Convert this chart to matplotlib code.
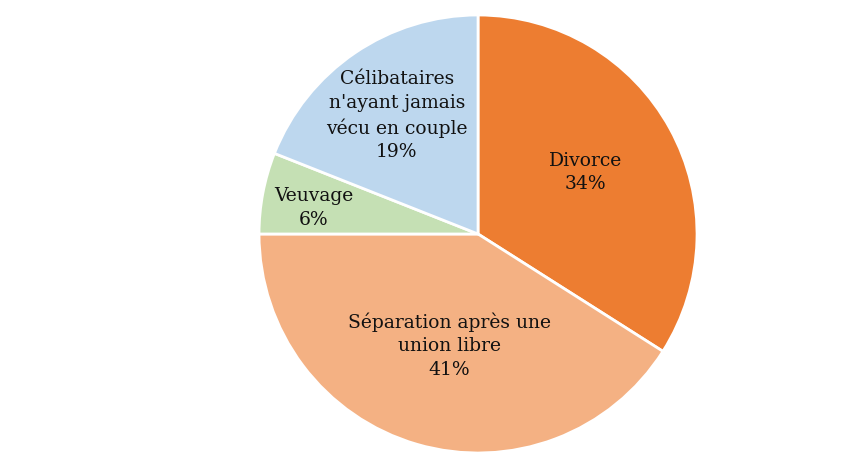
import matplotlib.pyplot as plt

# motif de la rupture
labels = ["Divorce", "Séparation après une\nunion libre", "Veuvage",
          "Célibataires\nn'ayant jamais\nvécu en couple"]
values = [34, 41, 6, 19]
colors = ["#ED7D31", "#F4B183", "#C5E0B4", "#BDD7EE"]
# label spots (data coords, pie radius = 1)
label_pos = [(0.49, 0.28), (-0.13, -0.51), (-0.75, 0.12), (-0.37, 0.54)]

plt.rcParams['font.family'] = ['DejaVu Serif']

fig = plt.figure(figsize=(8.49, 4.67), dpi=100)
ax = fig.add_axes([0.3051, 0.03, 0.5159, 0.9379])

wedges, _ = ax.pie(values, colors=colors, startangle=90, counterclock=False,
                   wedgeprops={'edgecolor': 'white', 'linewidth': 2})

for lab, v, (x, y) in zip(labels, values, label_pos):
    ax.text(x, y, f"{lab}\n{v}%", ha="center", va="center",
            fontsize=13.5, linespacing=1.4, color="#111111")

ax.set_xlim(-1, 1)
ax.set_ylim(-1, 1)
ax.set_aspect("equal")

plt.savefig("out.png", dpi=100)
